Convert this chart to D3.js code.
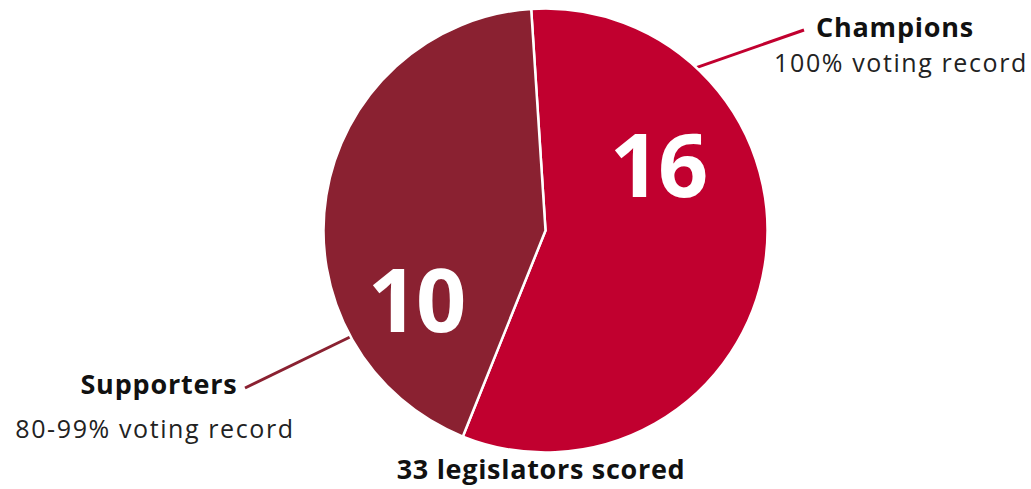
<!DOCTYPE html>
<html lang="en">
  <head>
    <meta charset="UTF-8" />
    <title>Legislators scored</title>
    <script src="https://cdn.jsdelivr.net/npm/d3@7"></script>
    <style>
      body { margin: 0; background: #fff; }
      text { font-family: "Open Sans", "Noto Sans", sans-serif; }
    </style>
  </head>
  <body>
    <script>
      const categories = ["Champions", "Supporters"];
      const subtitles = ["100% voting record", "80-99% voting record"];
      const counts = [16, 10];
      // share of the circle each slice takes in the picture (percent)
      const shares = [57.1, 42.9];
      const colors = ["#c1002f", "#8a2131"];
      const totalLabel = "33 legislators scored";

      const width = 1031;
      const height = 489;
      const cx = 545.5;
      const cy = 230.5;
      const radius = 222;

      const svg = d3
        .select("body")
        .append("svg")
        .attr("width", width)
        .attr("height", height);

      const data = categories.map((c, i) => ({
        name: c,
        sub: subtitles[i],
        count: counts[i],
        share: shares[i],
        color: colors[i],
      }));

      const start = (-3.7 * Math.PI) / 180;
      const pie = d3
        .pie()
        .sort(null)
        .value((d) => d.share)
        .startAngle(start)
        .endAngle(start + 2 * Math.PI);
      const arc = d3.arc().innerRadius(0).outerRadius(radius);

      const g = svg.append("g").attr("transform", `translate(${cx},${cy})`);

      // leader lines (drawn first, the slice covers the inner end)
      const leaders = [
        { angle: 42.8, end: [804, 30] },
        { angle: 241.4, end: [245, 388] },
      ];
      g.selectAll("line")
        .data(data)
        .enter()
        .append("line")
        .attr("x1", (d, i) => radius * Math.sin((leaders[i].angle * Math.PI) / 180))
        .attr("y1", (d, i) => -radius * Math.cos((leaders[i].angle * Math.PI) / 180))
        .attr("x2", (d, i) => leaders[i].end[0] - cx)
        .attr("y2", (d, i) => leaders[i].end[1] - cy)
        .attr("stroke", (d) => d.color)
        .attr("stroke-width", 3);

      g.selectAll("path")
        .data(pie(data))
        .enter()
        .append("path")
        .attr("d", arc)
        .attr("fill", (d) => d.data.color)
        .attr("stroke", "#fff")
        .attr("stroke-width", 2.5)
        .attr("stroke-linejoin", "miter");

      // big numbers inside slices
      const numPos = [
        [658, 163],
        [416, 298],
      ];
      svg
        .selectAll(".num")
        .data(data)
        .enter()
        .append("text")
        .attr("class", "num")
        .attr("x", (d, i) => numPos[i][0])
        .attr("y", (d, i) => numPos[i][1])
        .attr("text-anchor", "middle")
        .attr("dominant-baseline", "central")
        .attr("fill", "#fff")
        .attr("font-size", 88)
        .attr("font-weight", 700)
        .attr("letter-spacing", -2)
        .text((d) => d.count);

      // category labels
      const labelPos = [
        { x: 895, y: 37, sx: 901, sy: 72 },
        { x: 159, y: 394, sx: 155, sy: 438 },
      ];
      svg
        .selectAll(".name")
        .data(data)
        .enter()
        .append("text")
        .attr("class", "name")
        .attr("x", (d, i) => labelPos[i].x)
        .attr("y", (d, i) => labelPos[i].y)
        .attr("text-anchor", "middle")
        .attr("font-size", 27)
        .attr("font-weight", 700)
        .attr("letter-spacing", 0.8)
        .attr("fill", "#111")
        .text((d) => d.name);

      svg
        .selectAll(".sub")
        .data(data)
        .enter()
        .append("text")
        .attr("class", "sub")
        .attr("x", (d, i) => labelPos[i].sx)
        .attr("y", (d, i) => labelPos[i].sy)
        .attr("text-anchor", "middle")
        .attr("font-size", 25)
        .attr("letter-spacing", 1.6)
        .attr("fill", "#222")
        .text((d) => d.sub);

      svg
        .append("text")
        .attr("x", 541)
        .attr("y", 479)
        .attr("text-anchor", "middle")
        .attr("font-size", 27)
        .attr("font-weight", 700)
        .attr("letter-spacing", 0.7)
        .attr("fill", "#111")
        .text(totalLabel);
    </script>
  </body>
</html>
